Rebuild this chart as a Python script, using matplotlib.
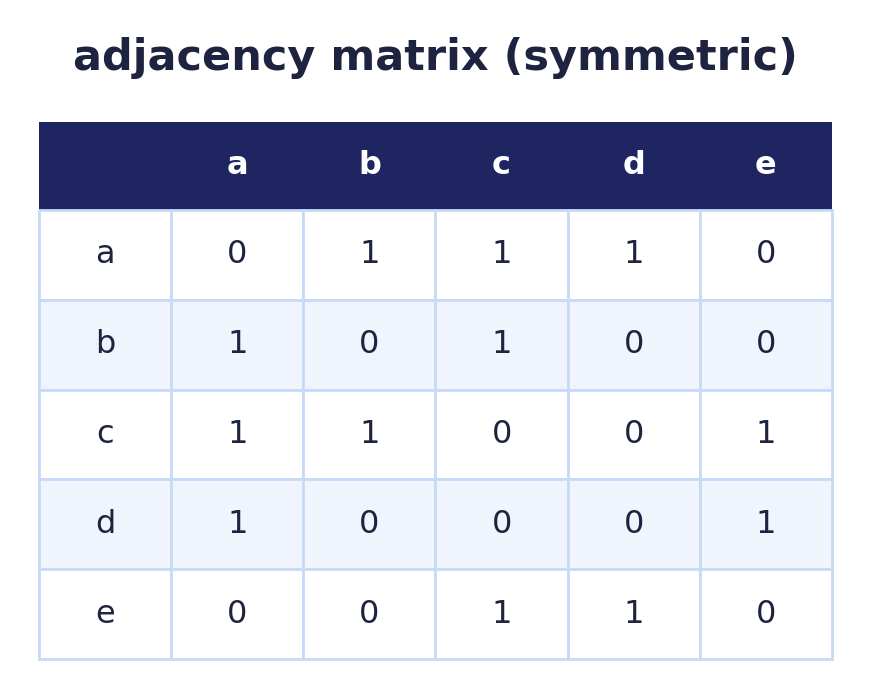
import matplotlib
matplotlib.use("Agg")
import matplotlib.pyplot as plt
from matplotlib.patches import Rectangle

title = "adjacency matrix (symmetric)"
nodes = ["a", "b", "c", "d", "e"]
matrix = [
    [0, 1, 1, 1, 0],
    [1, 0, 1, 0, 0],
    [1, 1, 0, 0, 1],
    [1, 0, 0, 0, 1],
    [0, 0, 1, 1, 0],
]

W, H = 870, 695
fig = plt.figure(figsize=(W/100, H/100), dpi=100)
ax = fig.add_axes([0, 0, 1, 1])
ax.set_xlim(0, W); ax.set_ylim(H, 0); ax.axis("off")

x0, x1 = 39, 832
y0, yh, y1 = 122, 210, 659
ncol = len(nodes) + 1
cw = (x1 - x0) / ncol
rh = (y1 - yh) / len(nodes)
hdr = "#1e2560"; border = "#c8daf8"; txt = "#1e2340"; alt = "#f0f4fc"

ax.text(W/2, 58, title, ha="center", va="center", fontsize=31, fontweight="bold", color=txt)
ax.add_patch(Rectangle((x0, y0), x1-x0, yh-y0, facecolor=hdr, edgecolor="none"))
for j, n in enumerate(nodes):
    ax.text(x0 + cw*(j+1.5), (y0+yh)/2, n, ha="center", va="center", fontsize=23,
            fontweight="bold", color="white")
for i, n in enumerate(nodes):
    top = yh + rh*i
    fc = alt if i % 2 == 1 else "white"
    for j in range(ncol):
        ax.add_patch(Rectangle((x0 + cw*j, top), cw, rh, facecolor=fc, edgecolor=border, lw=2))
        label = n if j == 0 else str(matrix[i][j-1])
        ax.text(x0 + cw*(j+0.5), top + rh/2, label, ha="center", va="center", fontsize=23, color=txt)

fig.savefig("out.png", dpi=100, facecolor="white")
